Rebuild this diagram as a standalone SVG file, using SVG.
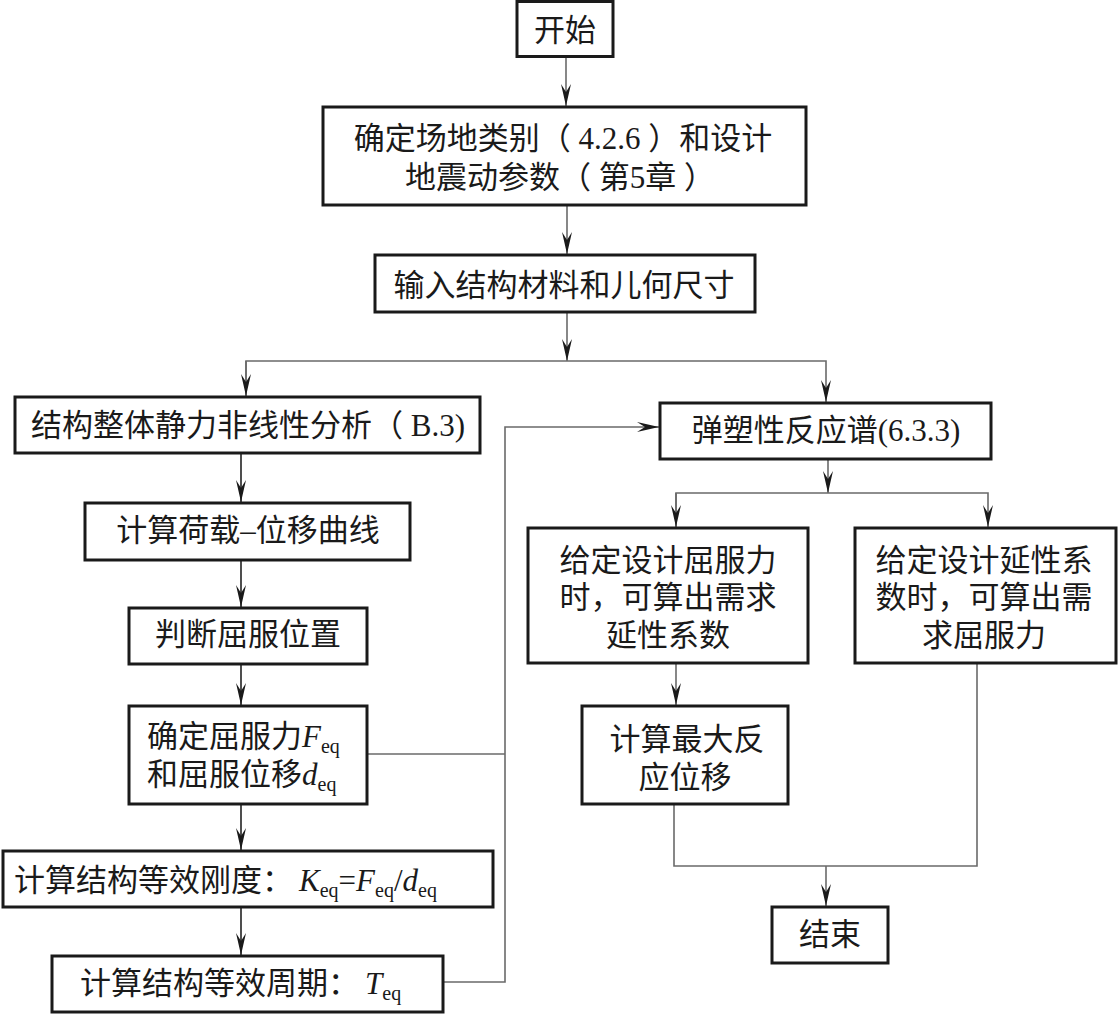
<svg xmlns="http://www.w3.org/2000/svg" width="1119" height="1027" viewBox="0 0 1119 1027">
<style>
.box{fill:#fff;stroke:#1a1a1a;stroke-width:3}
.t{font-family:"Liberation Serif","Noto Sans CJK SC",serif;font-size:31px;fill:#1a1a1a}
.c{text-anchor:middle}
.i{font-style:italic}
.s{font-size:20px}
.ln{fill:none;stroke:#6a6a6a;stroke-width:1.6}
.dk{stroke:#222}
</style>
<defs>
<marker id="ah" markerUnits="userSpaceOnUse" markerWidth="24" markerHeight="12" refX="22" refY="6" orient="auto">
<path d="M22,6 L0,1 L8,6 L0,11 Z" fill="#1a1a1a"/>
</marker>
</defs>
<rect width="1119" height="1027" fill="#fff"/>
<g id="connectors">
<line class="ln" x1="566" y1="57" x2="566" y2="106" marker-end="url(#ah)"/>
<line class="ln" x1="567" y1="205" x2="567" y2="254" marker-end="url(#ah)"/>
<line class="ln" x1="567" y1="312" x2="567" y2="361" marker-end="url(#ah)"/>
<polyline class="ln" points="246,396 246,361 826,361 826,402" marker-end="url(#ah)"/>
<line class="ln" x1="246" y1="361" x2="246" y2="396" marker-end="url(#ah)"/>
<line class="ln dk" x1="241" y1="453" x2="241" y2="502" marker-end="url(#ah)"/>
<line class="ln dk" x1="241" y1="560" x2="241" y2="607" marker-end="url(#ah)"/>
<line class="ln dk" x1="241" y1="664" x2="241" y2="705" marker-end="url(#ah)"/>
<line class="ln dk" x1="241" y1="804" x2="241" y2="850" marker-end="url(#ah)"/>
<line class="ln dk" x1="241" y1="907" x2="241" y2="955" marker-end="url(#ah)"/>
<polyline class="ln" points="367,754 505,754"/>
<polyline class="ln" points="443,982 505,982 505,427 659,427" marker-end="url(#ah)"/>
<line class="ln" x1="828" y1="459" x2="828" y2="493" marker-end="url(#ah)"/>
<polyline class="ln" points="676,527 676,493 988,493 988,527" marker-end="url(#ah)"/>
<line class="ln" x1="676" y1="493" x2="676" y2="527" marker-end="url(#ah)"/>
<line class="ln" x1="676" y1="663" x2="676" y2="705" marker-end="url(#ah)"/>
<polyline class="ln" points="674,804 674,866 977,866 977,663"/>
<line class="ln" x1="826" y1="866" x2="826" y2="906" marker-end="url(#ah)"/>
</g>
<g id="n-start">
<rect class="box" x="517" y="1.5" width="96" height="55"/>
<text class="t c" x="565" y="41">开始</text>
</g>
<g id="n-site">
<rect class="box" x="323" y="107" width="483" height="98"/>
<text class="t c" x="563" y="149">确定场地类别（ 4.2.6 ）和设计</text>
<text class="t c" x="560" y="188">地震动参数（ 第5章 ）</text>
</g>
<g id="n-input">
<rect class="box" x="375" y="255" width="380" height="57"/>
<text class="t c" x="564" y="296">输入结构材料和儿何尺寸</text>
</g>
<g id="n-static">
<rect class="box" x="15" y="397" width="465" height="56"/>
<text class="t c" x="248" y="436">结构整体静力非线性分析（ B.3)</text>
</g>
<g id="n-curve">
<rect class="box" x="85" y="503" width="325" height="57"/>
<text class="t c" x="248" y="541">计算荷载–位移曲线</text>
</g>
<g id="n-yieldpos">
<rect class="box" x="129" y="608" width="238" height="56"/>
<text class="t c" x="248" y="645">判断屈服位置</text>
</g>
<g id="n-yield">
<rect class="box" x="129" y="706" width="238" height="98"/>
<text class="t" x="147" y="747">确定屈服力<tspan class="i">F</tspan><tspan class="s" dy="6">eq</tspan></text>
<text class="t" x="147" y="785">和屈服位移<tspan class="i">d</tspan><tspan class="s" dy="6">eq</tspan></text>
</g>
<g id="n-stiff">
<rect class="box" x="3" y="851" width="490" height="56"/>
<text class="t" x="14" y="891">计算结构等效刚度：<tspan dx="6" class="i">K</tspan><tspan class="s" dy="6">eq</tspan><tspan dy="-6">=</tspan><tspan class="i">F</tspan><tspan class="s" dy="6">eq</tspan><tspan dy="-6">/</tspan><tspan class="i">d</tspan><tspan class="s" dy="6">eq</tspan></text>
</g>
<g id="n-period">
<rect class="box" x="52" y="956" width="391" height="56"/>
<text class="t" x="80" y="994">计算结构等效周期：<tspan dx="6" class="i">T</tspan><tspan class="s" dy="6">eq</tspan></text>
</g>
<g id="n-spectrum">
<rect class="box" x="660" y="403" width="331" height="56"/>
<text class="t c" x="826" y="441">弹塑性反应谱(6.3.3)</text>
</g>
<g id="n-givenforce">
<rect class="box" x="528" y="528" width="280" height="135"/>
<text class="t c" x="668" y="571">给定设计屈服力</text>
<text class="t c" x="668" y="608">时，可算出需求</text>
<text class="t c" x="668" y="646">延性系数</text>
</g>
<g id="n-givenduct">
<rect class="box" x="855" y="528" width="261" height="135"/>
<text class="t c" x="984" y="571">给定设计延性系</text>
<text class="t c" x="984" y="608">数时，可算出需</text>
<text class="t c" x="984" y="646">求屈服力</text>
</g>
<g id="n-maxdisp">
<rect class="box" x="582" y="706" width="206" height="98"/>
<text class="t c" x="687" y="750">计算最大反</text>
<text class="t c" x="685" y="788">应位移</text>
</g>
<g id="n-end">
<rect class="box" x="772" y="907" width="116" height="56"/>
<text class="t c" x="830" y="945">结束</text>
</g>
</svg>
